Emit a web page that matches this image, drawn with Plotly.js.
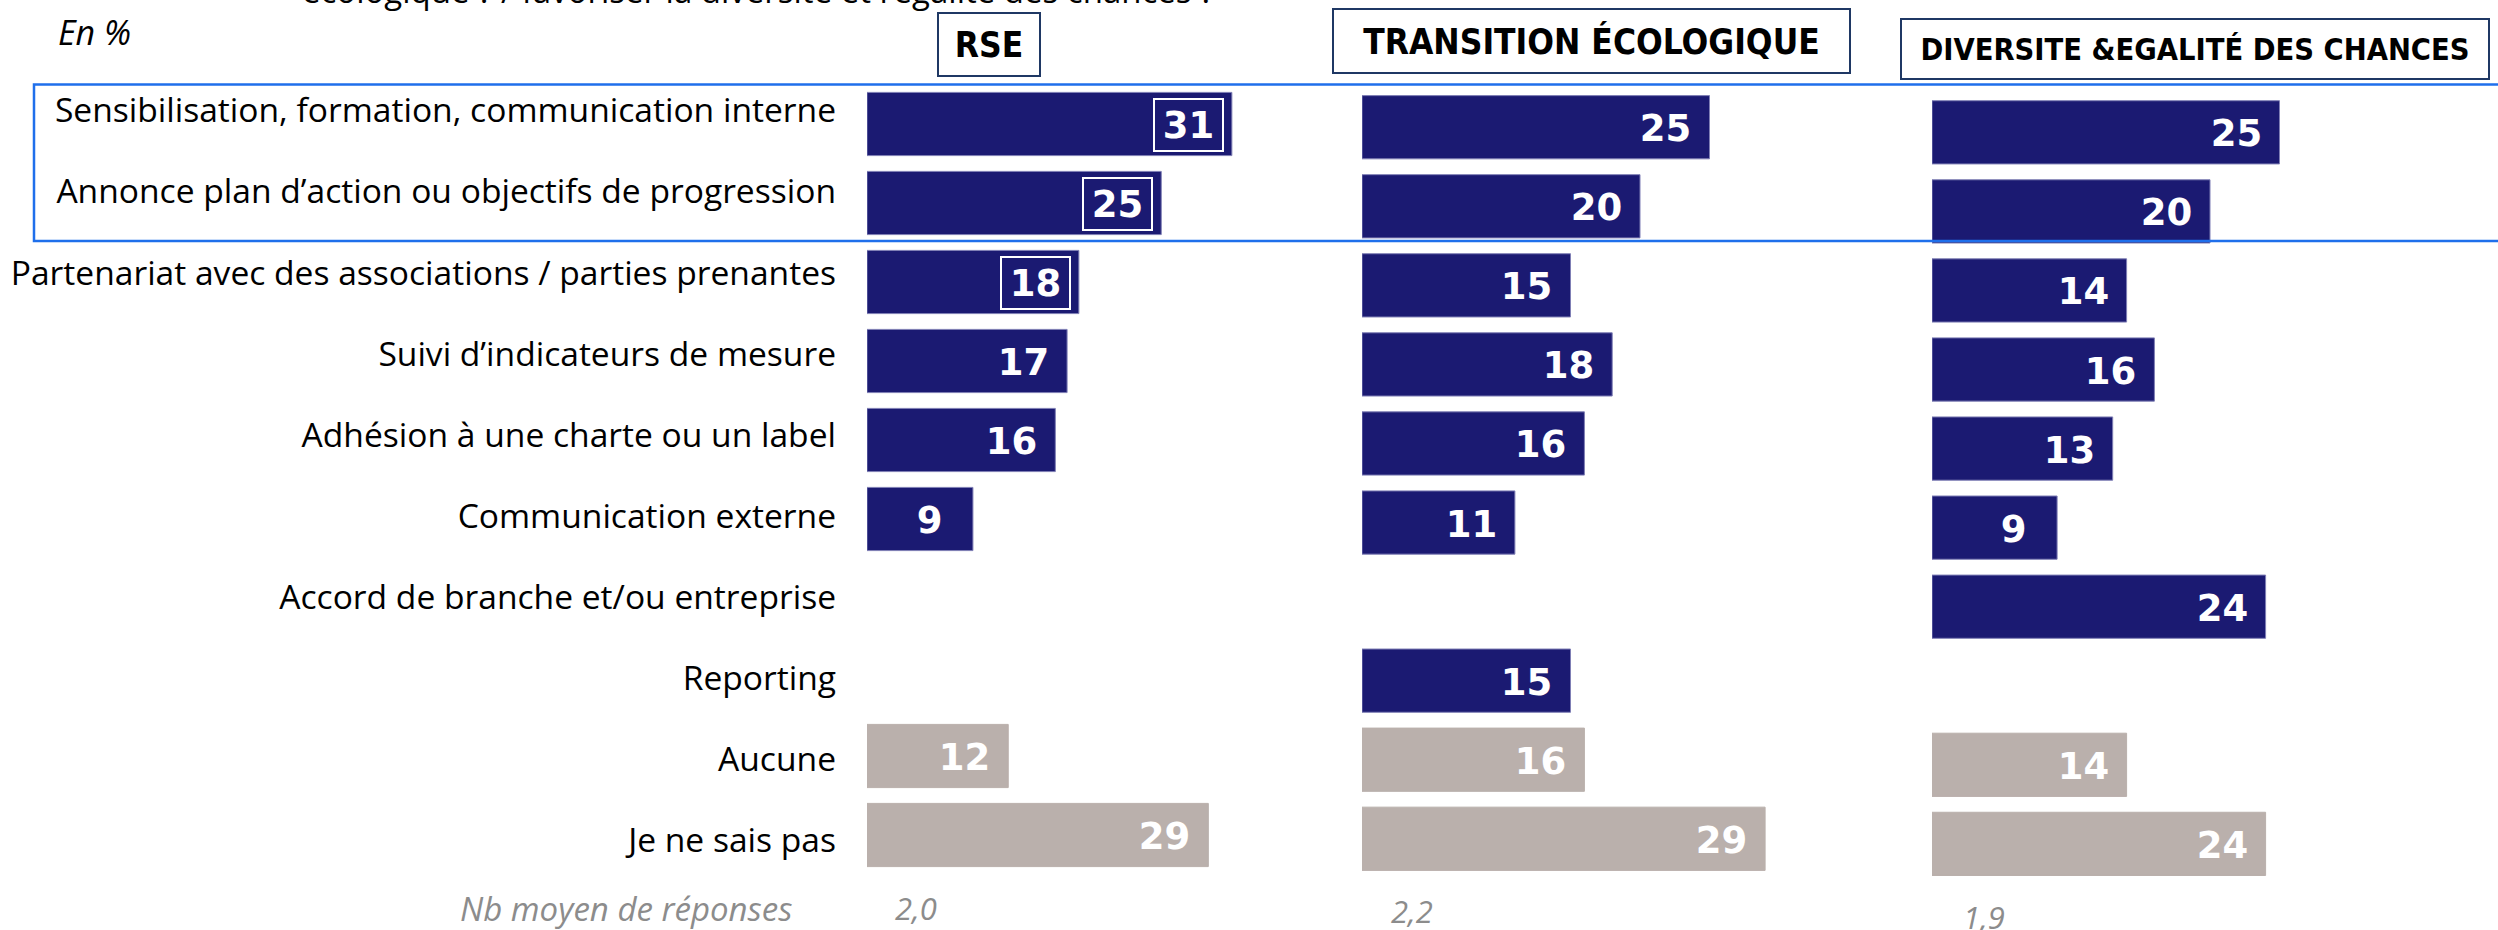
<!DOCTYPE html>
<html>
<head>
<meta charset="utf-8">
<script src="https://cdn.plot.ly/plotly-3.0.1.min.js"></script>
<style>html,body{margin:0;padding:0;background:#fff;}#chart{width:2498px;height:930px;}</style>
</head>
<body>
<div id="chart"></div>
<script>
// ---- Data ----
const categories = [
  "Sensibilisation, formation, communication interne",
  "Annonce plan d\u2019action ou objectifs de progression",
  "Partenariat avec des associations / parties prenantes",
  "Suivi d\u2019indicateurs de mesure",
  "Adhésion à une charte ou un label",
  "Communication externe",
  "Accord de branche et/ou entreprise",
  "Reporting",
  "Aucune",
  "Je ne sais pas"
];
const rseValues = [31, 25, 18, 17, 16, 9, null, null, 12, 29];
const teValues  = [25, 20, 15, 18, 16, 11, null, 15, 16, 29];
const deValues  = [25, 20, 14, 16, 13, 9, 24, null, 14, 24];
const panelTitles = ["RSE", "TRANSITION ÉCOLOGIQUE", "DIVERSITE &EGALITÉ DES CHANCES"];
const avgResponses = ["2,0", "2,2", "1,9"];
const avgLabel = "Nb moyen de réponses";
const unitLabel = "En %";
const questionTail = "écologique ? / favoriser la diversité et l\u2019égalité des chances ?";
const neutralRows = ["Aucune", "Je ne sais pas"];
const rseBoxed = [true, true, true, false, false, false, false, false, false, false];

// ---- Styles ----
const W = 2498, H = 930;
const NAVY = "#1B1A72", GREY = "#BAB0AC";
const colors = categories.map(c => neutralRows.includes(c) ? GREY : NAVY);
const lineColors = categories.map(c => neutralRows.includes(c) ? GREY : "#7F7FB5");

const panels = [
  {vals: rseValues, xa: "x",  ya: "y",  boxed: rseBoxed},
  {vals: teValues,  xa: "x2", ya: "y2", boxed: null},
  {vals: deValues,  xa: "x3", ya: "y3", boxed: null}
];

const traces = panels.map(p => ({
  type: "bar", orientation: "h",
  x: p.vals, y: categories,
  xaxis: p.xa, yaxis: p.ya,
  marker: {color: colors, line: {color: lineColors, width: 1}},
  hoverinfo: "skip", showlegend: false
}));
// invisible helper trace carrying the category labels column
traces.push({
  type: "bar", orientation: "h", x: rseValues, y: categories,
  xaxis: "x4", yaxis: "y4", marker: {opacity: 0}, hoverinfo: "skip", showlegend: false
});

const annotations = [];
panels.forEach(p => {
  p.vals.forEach((v, i) => {
    if (v === null) return;
    const boxed = p.boxed && p.boxed[i];
    annotations.push({
      xref: p.xa, yref: p.ya, x: v, y: categories[i],
      xanchor: "right", yanchor: "middle", xshift: -8, yshift: -1,
      text: String(v), showarrow: false,
      width: 67, height: 50, borderpad: 0, borderwidth: 2,
      bordercolor: boxed ? "#FFFFFF" : "rgba(0,0,0,0)",
      font: {family: "DejaVu Sans", size: 37, color: "#FFFFFF", weight: "bold"}
    });
  });
});

// Panel headers
const headerBoxes = [
  {cx: 989, cy: 44, w: 100, h: 61, size: 35},
  {cx: 1591.5, cy: 41, w: 515, h: 62, size: 35},
  {cx: 2195, cy: 49, w: 586, h: 58, size: 30.5}
];
panelTitles.forEach((t, i) => {
  const b = headerBoxes[i];
  annotations.push({
    xref: "paper", yref: "paper", x: b.cx / W, y: 1 - b.cy / H,
    xanchor: "center", yanchor: "middle", showarrow: false, text: t,
    width: b.w, height: b.h, borderpad: 0, borderwidth: 2, bordercolor: "#1F3864",
    font: {family: "DejaVu Sans Condensed", size: b.size, color: "#000000", weight: "bold"}
  });
});

// Unit, question tail
annotations.push({
  xref: "paper", yref: "paper", x: 56 / W, y: 1 - 32 / H, xanchor: "left", yanchor: "middle",
  showarrow: false, text: unitLabel,
  font: {family: "Open Sans", size: 34, color: "#000000", style: "italic"}
});
annotations.push({
  xref: "paper", yref: "paper", x: 300 / W, y: 1 + 10 / H, xanchor: "left", yanchor: "middle",
  showarrow: false, text: questionTail,
  font: {family: "Open Sans", size: 33, color: "#000000"}
});

// Footer: average number of responses
annotations.push({
  xref: "paper", yref: "paper", x: 795 / W, y: 1 - 908 / H, xanchor: "right", yanchor: "middle",
  showarrow: false, text: avgLabel,
  font: {family: "Open Sans", size: 33, color: "#8C8C8C", style: "italic"}
});
const avgY = [908, 911, 917];
const avgShift = [26, 27, 29];
avgResponses.forEach((t, i) => {
  annotations.push({
    xref: panels[i].xa, yref: "paper", x: 0, y: 1 - avgY[i] / H, xanchor: "left", yanchor: "middle",
    xshift: avgShift[i], showarrow: false, text: t,
    font: {family: "Open Sans", size: 31, color: "#8C8C8C", style: "italic"}
  });
});

const hiddenX = (d) => ({domain: d, range: [0, 35], visible: false, fixedrange: true});
const catY = (d, anchor) => ({
  domain: d, anchor: anchor, type: "category", categoryorder: "array", categoryarray: categories,
  range: [categories.length - 0.5, -0.5], showticklabels: false, showgrid: false,
  zeroline: false, showline: false, ticks: "", fixedrange: true
});

const layout = {
  width: W, height: H,
  margin: {l: 0, r: 0, t: 0, b: 0},
  paper_bgcolor: "#FFFFFF", plot_bgcolor: "rgba(0,0,0,0)",
  bargap: 0.2, showlegend: false,
  xaxis:  hiddenX([867 / W, 1278.95 / W]),
  xaxis2: hiddenX([1362 / W, 1848.5 / W]),
  xaxis3: hiddenX([1932 / W, 2418.5 / W]),
  xaxis4: {domain: [0, 0.3], range: [0, 1], visible: false, fixedrange: true},
  yaxis:  catY([1 - 874.5 / H, 1 - 84.5 / H], "x"),
  yaxis2: catY([1 - 878.3 / H, 1 - 87.7 / H], "x2"),
  yaxis3: catY([1 - 883.4 / H, 1 - 92.8 / H], "x3"),
  yaxis4: Object.assign(catY([1 - 881 / H, 1 - 70 / H], "free"), {
    position: 836 / W, side: "left", showticklabels: true,
    tickfont: {family: "Open Sans", size: 33.6, color: "#000000"}
  }),
  shapes: [{
    type: "rect", xref: "paper", yref: "paper", layer: "above",
    x0: 34 / W, x1: 1.01, y0: 1 - 241 / H, y1: 1 - 84.5 / H,
    line: {color: "#1F6FEB", width: 2.5}, fillcolor: "rgba(0,0,0,0)"
  }],
  annotations: annotations
};

Plotly.newPlot("chart", traces, layout, {staticPlot: true, displayModeBar: false});
</script>
</body>
</html>
